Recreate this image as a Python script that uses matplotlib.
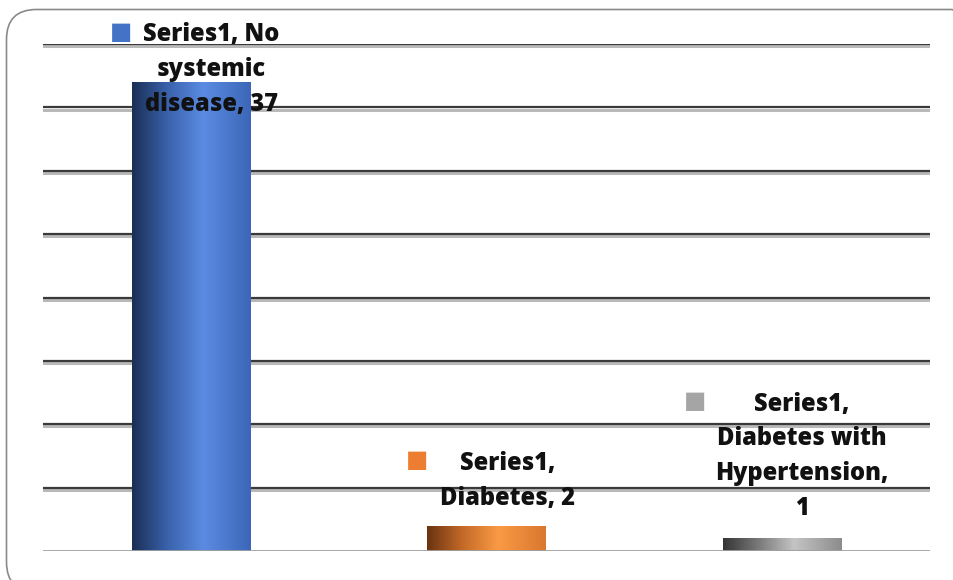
import numpy as np
import matplotlib
matplotlib.use("Agg")
import matplotlib.pyplot as plt
from matplotlib.colors import LinearSegmentedColormap
from matplotlib.patches import FancyBboxPatch
from matplotlib.transforms import IdentityTransform
import matplotlib.patheffects as pe

# Data
series_name = "Series1"
categories = ["No systemic disease", "Diabetes", "Diabetes with Hypertension"]
values = [37, 2, 1]
label_texts = [
    "Series1, No\nsystemic\ndisease, 37",
    "Series1,\nDiabetes, 2",
    "Series1,\nDiabetes with\nHypertension,\n1",
]

# Styling
gradients = [
    ["#1b2e55", "#3a62ac", "#5b8be2", "#3c67b8"],
    ["#6a3310", "#c46a28", "#fa9a45", "#d9782e"],
    ["#353535", "#7a7a7a", "#c4c4c4", "#8c8c8c"],
]
marker_colors = ["#4472c4", "#ed7d31", "#a5a5a5"]
# label block offsets (points) from top-centre of each bar
text_offsets = [(15, 9), (15, 32), (14, 59)]
marker_offsets = [(-50, 36), (-50, 47), (-63, 99)]

plt.rcParams["font.family"] = ["Open Sans", "DejaVu Sans"]

fig = plt.figure(figsize=(9.54, 5.80), dpi=100)
ax = fig.add_axes([43 / 954, 29 / 580, 887 / 954, 507 / 580])

x = np.arange(len(categories))
bars = ax.bar(x, values, width=0.4, color="none", edgecolor="none", zorder=3)

# Cylindrical shading on each bar
for bar, cols in zip(bars, gradients):
    cmap = LinearSegmentedColormap.from_list("g", list(zip([0, 0.3, 0.6, 1.0], cols)))
    grad = np.linspace(0, 1, 256).reshape(1, -1)
    x0, y0 = bar.get_x(), bar.get_y()
    w, h = bar.get_width(), bar.get_height()
    im = ax.imshow(grad, cmap=cmap, aspect="auto", extent=[x0, x0 + w, y0, y0 + h],
                   interpolation="bicubic", zorder=3)
    im.set_clip_path(bar)

ax.set_xlim(-0.5, len(categories) - 0.5)
ax.set_ylim(0, 40)

# Gridlines with a soft drop shadow
shadow = [pe.SimpleLineShadow(offset=(0, -1.6), shadow_color="#808080", alpha=0.55, linewidth=2.2),
          pe.Normal()]
for yv in np.arange(5, 41, 5):
    ax.axhline(yv, color="#3a3a3a", lw=1.6, zorder=1, path_effects=shadow)
ax.axhline(0, color="#a0a0a0", lw=2.0, zorder=4,
           path_effects=[pe.SimpleLineShadow(offset=(0, -1.2), shadow_color="#c0c0c0", alpha=0.6),
                         pe.Normal()])

for s in ax.spines.values():
    s.set_visible(False)
ax.set_xticks([])
ax.set_yticks([])
ax.patch.set_alpha(0)

# Data labels with legend keys
for i, (v, txt) in enumerate(zip(values, label_texts)):
    ax.annotate(txt, xy=(x[i], v), xytext=text_offsets[i], textcoords="offset points",
                ha="center", va="center", fontsize=17, fontweight="heavy",
                color="#111111", linespacing=1.52, zorder=6)
    ax.annotate("\u25A0", xy=(x[i], v), xytext=marker_offsets[i], textcoords="offset points",
                ha="center", va="center", fontsize=17, color=marker_colors[i],
                family="DejaVu Sans", zorder=6)

# Rounded chart frame
frame = FancyBboxPatch((6.5, -12), 975, 582.5, boxstyle="round,pad=0,rounding_size=30",
                       transform=IdentityTransform(), facecolor="none",
                       edgecolor="#8a8a8a", lw=1.2)
fig.patches.append(frame)

fig.savefig("out.png", dpi=100)
